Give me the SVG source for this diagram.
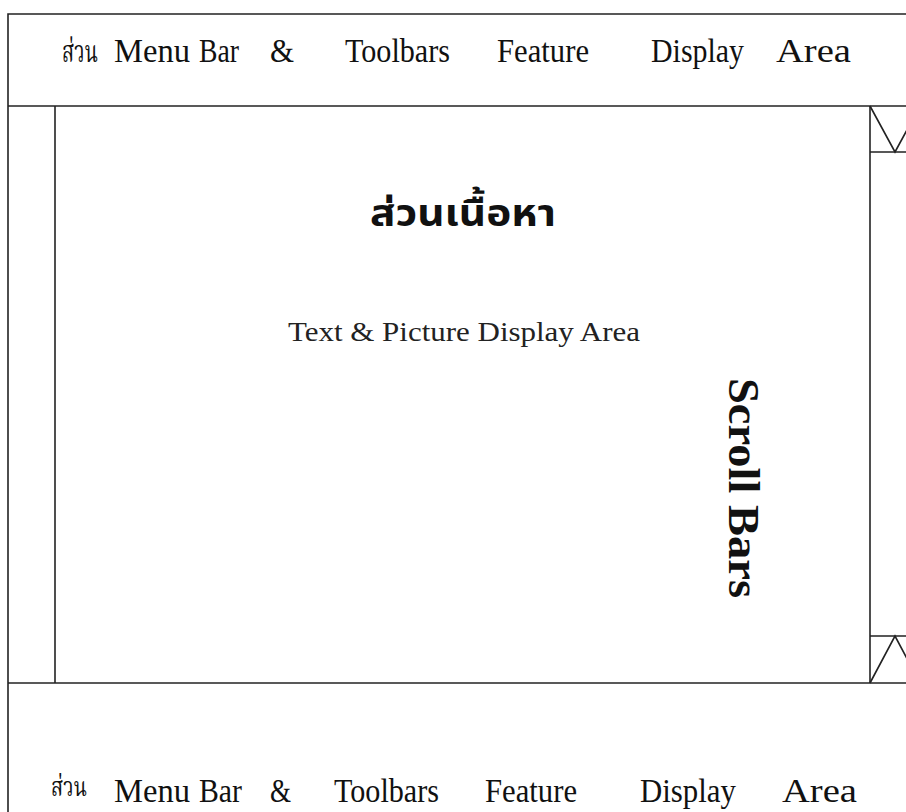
<svg xmlns="http://www.w3.org/2000/svg" width="906" height="812" viewBox="0 0 906 812">
<style>
.ln{stroke:#222;stroke-width:1.6;fill:none}
.lbl{font-family:"Liberation Serif","Noto Serif Thai","Noto Sans Thai","DejaVu Sans",serif;font-size:33px;fill:#111}
.th{font-family:"Noto Serif Thai","Noto Sans Thai","Liberation Serif","DejaVu Sans",serif;font-size:30px}
.thb{font-size:27px}
.title{font-family:"Noto Sans Thai","DejaVu Sans",sans-serif;font-size:38px;font-weight:bold;fill:#111}
.sub{font-family:"Liberation Serif",serif;font-size:27px;fill:#222}
.sb{font-family:"Liberation Serif",serif;font-size:44px;font-weight:bold;fill:#111}
</style>
<rect width="906" height="812" fill="#fff"/>
<g id="frame">
<path class="ln" d="M8 820 V14 H910"/>
<path class="ln" d="M8 106 H910"/>
<path class="ln" d="M8 683 H910"/>
</g>
<g id="top-bar">
<text class="lbl th" x="62" y="62" textLength="36" lengthAdjust="spacingAndGlyphs">ส่วน</text>
<text class="lbl" x="114" y="62" textLength="76" lengthAdjust="spacingAndGlyphs">Menu</text>
<text class="lbl" x="199" y="62" textLength="40" lengthAdjust="spacingAndGlyphs">Bar</text>
<text class="lbl" x="270" y="62" textLength="24" lengthAdjust="spacingAndGlyphs">&amp;</text>
<text class="lbl" x="345" y="62" textLength="105" lengthAdjust="spacingAndGlyphs">Toolbars</text>
<text class="lbl" x="497" y="62" textLength="92" lengthAdjust="spacingAndGlyphs">Feature</text>
<text class="lbl" x="651" y="62" textLength="93" lengthAdjust="spacingAndGlyphs">Display</text>
<text class="lbl" x="776" y="62" textLength="75" lengthAdjust="spacingAndGlyphs">Area</text>
</g>
<g id="left-bar">
<path class="ln" d="M55 106 V683"/>
</g>
<g id="content">
<text class="title" x="370" y="226" textLength="186" lengthAdjust="spacingAndGlyphs">ส่วนเนื้อหา</text>
<text class="sub" x="288" y="341" textLength="352" lengthAdjust="spacingAndGlyphs">Text &amp; Picture Display Area</text>
</g>
<g id="scrollbar">
<path class="ln" d="M870 106 V683"/>
<path class="ln" d="M870 152 H910 M870 636 H910"/>
<path class="ln" d="M870 106 L895 152 L920 106"/>
<path class="ln" d="M870 683 L895 636 L920 683"/>
<text class="sb" transform="translate(729 378) rotate(90)" textLength="220" lengthAdjust="spacingAndGlyphs">Scroll Bars</text>
</g>
<g id="bottom-bar">
<text class="lbl th thb" x="51" y="796" textLength="36" lengthAdjust="spacingAndGlyphs">ส่วน</text>
<text class="lbl" x="114" y="802" textLength="76" lengthAdjust="spacingAndGlyphs">Menu</text>
<text class="lbl" x="199" y="802" textLength="43" lengthAdjust="spacingAndGlyphs">Bar</text>
<text class="lbl" x="270" y="802" textLength="21" lengthAdjust="spacingAndGlyphs">&amp;</text>
<text class="lbl" x="334" y="802" textLength="105" lengthAdjust="spacingAndGlyphs">Toolbars</text>
<text class="lbl" x="485" y="802" textLength="92" lengthAdjust="spacingAndGlyphs">Feature</text>
<text class="lbl" x="640" y="802" textLength="96" lengthAdjust="spacingAndGlyphs">Display</text>
<text class="lbl" x="782" y="802" textLength="75" lengthAdjust="spacingAndGlyphs">Area</text>
</g>
</svg>
